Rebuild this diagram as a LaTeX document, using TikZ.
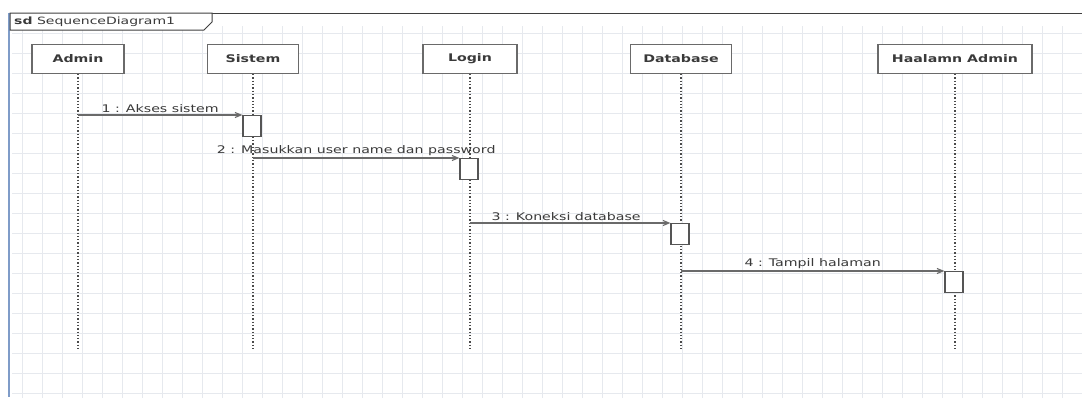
\documentclass[tikz,border=0pt]{standalone}
\usepackage{fontspec}
\setmainfont{DejaVu Sans}
\usetikzlibrary{arrows.meta}
\definecolor{gridc}{HTML}{E6E9EE}
\definecolor{linec}{HTML}{6A6A6A}
\definecolor{txtc}{HTML}{3A3A3A}
\definecolor{framec}{HTML}{7F9CC8}
\newcommand{\wtxt}[1]{\scalebox{1.35}[1]{#1}}
\tikzset{
  head/.style={draw=linec, line width=1.2pt, fill=white, minimum height=29pt,
    inner sep=0pt, font=\fontsize{10.5}{12}\selectfont\bfseries, text=txtc},
  life/.style={draw=linec!70!black, line width=1.3pt, dotted},
  act/.style={draw=linec!80!black, line width=1.2pt, fill=white, minimum width=18pt,
    minimum height=21pt, inner sep=0pt},
  msg/.style={draw=linec, line width=1.1pt, -{Straight Barb[length=6pt,width=5pt]}},
  lbl/.style={font=\fontsize{10.5}{12}\selectfont, text=txtc, inner sep=1.5pt}
}
\begin{document}
\begin{tikzpicture}[x=1pt,y=-1pt]
\useasboundingbox (0,0) rectangle (1082,397);
\fill[white] (0,0) rectangle (1082,397);
% background grid of the diagram area
\draw[gridc, line width=0.6pt, step=20pt, shift={(2pt,-13pt)}] (10,13) grid (1082,397);
% frame
\draw[framec, line width=2.5pt] (9,13) -- (9,397);
\draw[linec!60!black, line width=1pt] (10,13) -- (1082,13);
\draw[linec!60!black, line width=1pt, fill=white] (10,13) -- (212,13) -- (212,22) -- (204,30) -- (10,30) -- cycle;
\node[anchor=west, font=\fontsize{10}{11}\selectfont, text=txtc, inner sep=0pt] (sd) at (14,21.5) {\scalebox{1.4}[1]{\textbf{sd} SequenceDiagram1}};

% lifeline heads
\node[head, minimum width=92pt] (admin) at (78,59) {\wtxt{Admin}};
\node[head, minimum width=91pt] (sistem) at (253,59) {\wtxt{Sistem}};
\node[head, minimum width=94pt] (login) at (470,59) {\wtxt{Login}};
\node[head, minimum width=101pt] (db) at (681,59) {\wtxt{Database}};
\node[head, minimum width=154pt] (hal) at (955,59) {\wtxt{Haalamn Admin}};

% lifeline ends
\coordinate (adminE) at (78,350);
\coordinate (sistemE) at (253,350);
\coordinate (loginE) at (470,350);
\coordinate (dbE) at (681,350);
\coordinate (halE) at (955,350);

\draw[life] (admin.south) -- (adminE);
\draw[life] (sistem.south) -- (sistemE);
\draw[life] (login.south) -- (loginE);
\draw[life] (db.south) -- (dbE);
\draw[life] (hal.south) -- (halE);

% activations
\node[act, anchor=north] (a1) at (252,115) {};
\node[act, anchor=north] (a2) at (469,158) {};
\node[act, anchor=north] (a3) at (680,223) {};
\node[act, anchor=north] (a4) at (954,271) {};

% messages
\draw[msg] (admin.south |- a1.north west) -- node[lbl, above, pos=0.5] {\wtxt{1 : Akses sistem}} (a1.north west);
\draw[msg] (sistem.south |- a2.north west) -- node[lbl, above, pos=0.5] {\wtxt{2 : Masukkan user name dan password}} (a2.north west);
\draw[msg] (login.south |- a3.north west) -- node[lbl, above, pos=0.48] {\wtxt{3 : Koneksi database}} (a3.north west);
\draw[msg] (db.south |- a4.north west) -- node[lbl, above, pos=0.5] {\wtxt{4 : Tampil halaman}} (a4.north west);
\end{tikzpicture}
\end{document}
